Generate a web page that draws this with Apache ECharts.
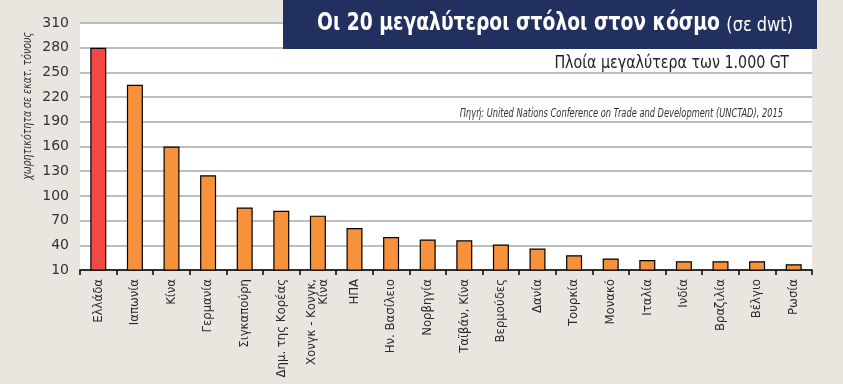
<!DOCTYPE html>
<html>
<head>
<meta charset="utf-8">
<script src="https://cdn.jsdelivr.net/npm/echarts@6/dist/echarts.min.js"></script>
<style>
html,body{margin:0;padding:0;background:#ebe5df;}
#c{width:843px;height:384px;}
</style>
</head>
<body>
<div id="c"></div>
<script>
const categories = ["Ελλάδα","Ιαπωνία","Κίνα","Γερμανία","Σιγκαπούρη","Δημ. της Κορέας","Χονγκ - Κονγκ,\nΚίνα","ΗΠΑ","Ην. Βασίλειο","Νορβηγία","Ταϊβάν, Κίνα","Βερμούδες","Δανία","Τουρκία","Μονακό","Ιταλία","Ινδία","Βραζιλία","Βέλγιο","Ρωσία"];
const values = [280,235,160,125,86,82,76,61,50,47,46,41,36,28,24,22,20.5,20.5,20.5,17];
const yTicks = [10,40,70,100,130,160,190,220,250,280,310];
const titleMain = "Οι 20 μεγαλύτεροι στόλοι στον κόσμο";
const titleUnit = "(σε dwt)";
const subtitle = "Πλοία μεγαλύτερα των 1.000 GT";
const sourceText = "Πηγή: United Nations Conference on Trade and Development (UNCTAD), 2015";
const yName = "χωρητικότητα σε εκατ. τόνους";

const chart = echarts.init(document.getElementById('c'), null, {renderer:'canvas'});
const narrow = "'Liberation Sans Narrow','DejaVu Sans Condensed','Roboto',sans-serif";
chart.setOption({
  backgroundColor:'#ebe5df',
  animation:false,
  grid:{left:80,right:31,top:23,bottom:114,show:true,backgroundColor:'#ffffff',borderWidth:0,containLabel:false,outerBoundsMode:'none'},
  xAxis:{
    type:'category',
    data:categories,
    boundaryGap:true,
    axisLine:{lineStyle:{color:'#000',width:1.5}},
    axisTick:{show:true,length:5,inside:false,lineStyle:{color:'#000',width:1.5}},
    axisLabel:{rotate:90,interval:0,color:'#2a2a2a',fontSize:13,fontFamily:narrow,margin:9,lineHeight:12}
  },
  yAxis:{
    type:'value',
    min:yTicks[0],
    max:yTicks[yTicks.length-1],
    interval:yTicks[1]-yTicks[0],
    axisLine:{show:false},
    axisTick:{show:false},
    axisLabel:{color:'#333',fontSize:14,fontFamily:"'DejaVu Sans',sans-serif",margin:11},
    splitLine:{lineStyle:{color:'#a8a8a8',width:1.5}}
  },
  series:[{
    type:'bar',
    barWidth:16,
    data:values.map((v,i)=>({value:v,itemStyle:{color:i===0?'#f24a42':'#f8913c'}})),
    itemStyle:{borderColor:'#000',borderWidth:1.2}
  }],
  graphic:[
    {type:'rect',z:100,shape:{x:283,y:0,width:534,height:49},style:{fill:'#22305f'}},
    {type:'text',z:101,x:317,y:36,scaleX:0.78,style:{text:titleMain,fill:'#fff',font:"bold 24px 'DejaVu Sans'",textVerticalAlign:'bottom'}},
    {type:'text',z:101,x:793,y:36,scaleX:0.9,style:{text:titleUnit,fill:'#fff',font:"20px "+narrow,textAlign:'right',textVerticalAlign:'bottom'}},
    {type:'text',z:101,x:789,y:63,scaleX:0.88,style:{text:subtitle,fill:'#222',font:"18px "+narrow,textAlign:'right',textVerticalAlign:'middle'}},
    {type:'text',z:101,x:783,y:114,scaleX:0.8,style:{text:sourceText,fill:'#333',font:"italic 11.5px "+narrow,textAlign:'right',textVerticalAlign:'middle'}},
    {type:'text',z:101,x:28,y:106,rotation:Math.PI/2,scaleX:0.87,style:{text:yName,fill:'#333',font:"italic 12px "+narrow,textAlign:'center',textVerticalAlign:'middle'}}
  ]
});
</script>
</body>
</html>
